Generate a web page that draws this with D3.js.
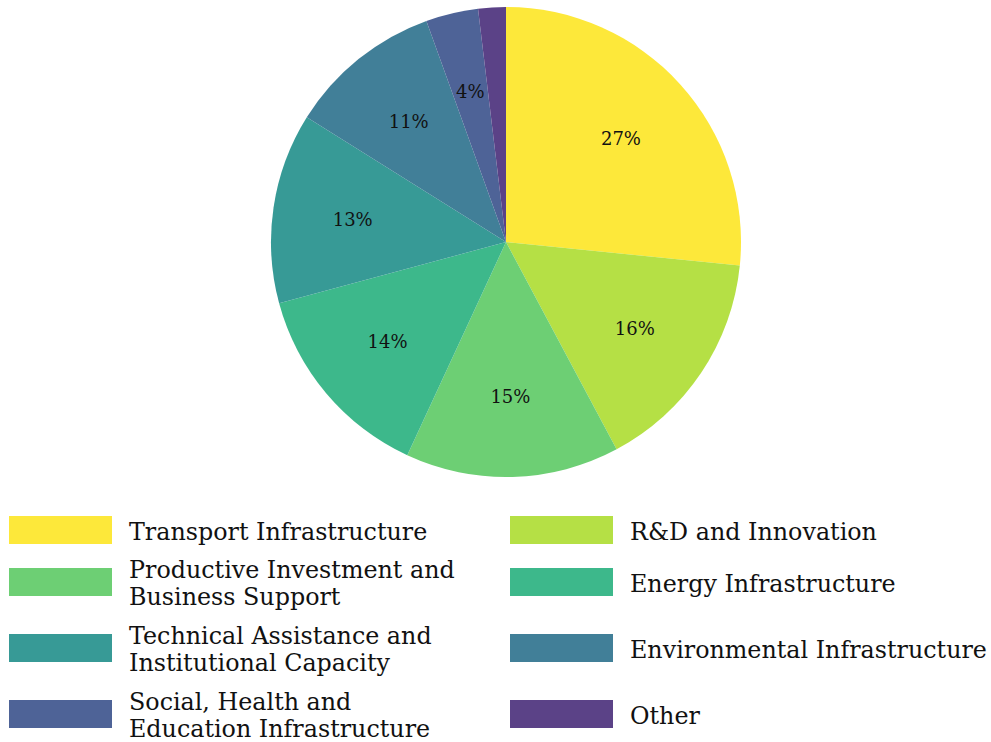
<!DOCTYPE html>
<html>
<head>
<meta charset="utf-8">
<script src="https://cdn.jsdelivr.net/npm/d3@7"></script>
<style>
  html, body { margin: 0; padding: 0; background: #fff; }
  svg { display: block; }
</style>
</head>
<body>
<svg id="chart" width="991" height="742"></svg>
<script>
const categories = [
  "Transport Infrastructure",
  "R&D and Innovation",
  "Productive Investment and Business Support",
  "Energy Infrastructure",
  "Technical Assistance and Institutional Capacity",
  "Environmental Infrastructure",
  "Social, Health and Education Infrastructure",
  "Other"
];
const values = [26.6, 15.6, 14.7, 13.9, 13.1, 10.6, 3.6, 1.9];
const colors = ["#fde83a", "#b5e045", "#6dcf74", "#3db88b", "#379a96", "#417f98", "#4e6397", "#5b4287"];
// legend label lines (wrapped as in the reference)
const legendLines = [
  ["Transport Infrastructure"],
  ["R&D and Innovation"],
  ["Productive Investment and", "Business Support"],
  ["Energy Infrastructure"],
  ["Technical Assistance and", "Institutional Capacity"],
  ["Environmental Infrastructure"],
  ["Social, Health and", "Education Infrastructure"],
  ["Other"]
];

const svg = d3.select("#chart");
const fontFam = "'DejaVu Serif', 'Liberation Serif', serif";

const cx = 506, cy = 242, r = 235, labelR = 155;
const data = categories.map((c, i) => ({ cat: c, value: values[i], color: colors[i] }));
const pie = d3.pie().sort(null).value(d => d.value).startAngle(0).endAngle(2 * Math.PI);
const arcs = pie(data);
const arc = d3.arc().innerRadius(0).outerRadius(r);
const labelArc = d3.arc().innerRadius(labelR).outerRadius(labelR);

const g = svg.append("g").attr("transform", `translate(${cx},${cy})`);
g.selectAll("path").data(arcs).join("path")
  .attr("d", arc)
  .attr("fill", d => d.data.color);

g.selectAll("text.pct").data(arcs.filter(d => d.data.value >= 3)).join("text")
  .attr("class", "pct")
  .attr("transform", d => `translate(${labelArc.centroid(d)})`)
  .attr("text-anchor", "middle")
  .attr("dominant-baseline", "central")
  .attr("font-family", fontFam)
  .attr("font-size", 18)
  .attr("fill", "#111")
  .text(d => Math.round(d.value) + "%");

// Legend
const probe = svg.append("text").attr("font-family", fontFam).attr("font-size", 100).text("Environmental Infrastructure");
const w100 = probe.node().getComputedTextLength();
probe.remove();
const legendFont = Math.min(26, 100 * 357 / w100);

const colX = [9, 510];
const textX = [129, 630];
const rowY = [516, 568, 634, 700]; // rect tops
const rectW = 103, rectH = 28, lineH = 27;

const leg = svg.append("g");
data.forEach((d, i) => {
  const col = i % 2, row = Math.floor(i / 2);
  const y0 = rowY[row];
  leg.append("rect")
    .attr("x", colX[col]).attr("y", y0)
    .attr("width", rectW).attr("height", rectH)
    .attr("fill", d.color);
  const lines = legendLines[i];
  const centerY = y0 + rectH / 2 + 1.5;
  const firstY = centerY - (lines.length - 1) * lineH / 2;
  const t = leg.append("text")
    .attr("font-family", fontFam)
    .attr("font-size", legendFont)
    .attr("fill", "#111");
  lines.forEach((ln, k) => {
    t.append("tspan")
      .attr("x", textX[col])
      .attr("y", firstY + k * lineH)
      .attr("dominant-baseline", "central")
      .text(ln);
  });
});
</script>
</body>
</html>
